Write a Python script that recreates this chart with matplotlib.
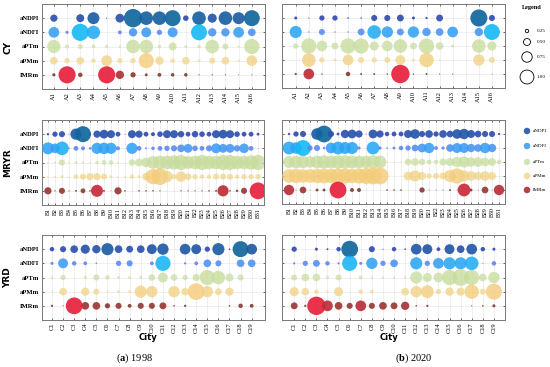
import numpy as np
import matplotlib
matplotlib.use("Agg")
import matplotlib.pyplot as plt
from matplotlib.colors import to_rgb

plt.rcParams['font.family'] = ['Liberation Serif', 'DejaVu Serif']
plt.rcParams['mathtext.fontset'] = 'custom'
plt.rcParams['mathtext.rm'] = 'Liberation Serif'
plt.rcParams['mathtext.bf'] = 'Liberation Serif:bold'

rows = ['aNDPI', 'aNDFI', 'aPTm', 'aPMm', 'IMRm']
regions = ['CY', 'MRYR', 'YRD']
prefix = {'CY': 'A', 'MRYR': 'B', 'YRD': 'C'}
ncity = {'CY': 16, 'MRYR': 31, 'YRD': 19}

# ---- bubble values (1998) ----
cy_1998 = [
    [0.45, 0.0, 0.5, 0.75, 0.07, 0.55, 1.15, 0.85, 0.85, 1.0, 0.35, 0.85, 0.57, 0.85, 0.75, 1.0],
    [0.67, 0.2, 1.07, 0.83, 0.0, 0.24, 0.52, 0.62, 0.33, 0.62, 0.0, 1.0, 0.52, 0.52, 0.67, 0.48],
    [0.83, 0.25, 0.3, 0.22, 0.2, 0.15, 0.85, 0.85, 0.22, 0.5, 0.18, 0.22, 0.85, 0.38, 0.12, 0.95],
    [0.48, 0.33, 0.48, 0.28, 0.67, 0.33, 0.33, 0.95, 0.52, 0.28, 0.48, 0.18, 0.38, 0.48, 0.14, 0.67],
    [0.2, 1.07, 0.28, 0.0, 1.07, 0.52, 0.33, 0.18, 0.24, 0.22, 0.22, 0.07, 0.08, 0.07, 0.06, 0.06],
]
mryr_1998 = [
    [0.15, 0.33, 0.38, 0.05, 0.7, 1.0, 0.12, 0.45, 0.55, 0.5, 0.3, 0.05, 0.5, 0.45, 0.3, 0.25,
     0.35, 0.5, 0.5, 0.4, 0.3, 0.4, 0.35, 0.3, 0.5, 0.55, 0.5, 0.35, 0.3, 0.3, 0.18],
    [0.75, 0.6, 0.85, 0.1, 0.3, 0.25, 0.15, 0.7, 0.72, 0.7, 0.25, 0.03, 0.7, 0.3, 0.12, 0.22,
     0.3, 0.33, 0.38, 0.48, 0.55, 0.35, 0.3, 0.38, 0.62, 0.55, 0.55, 0.4, 0.6, 0.3, 0.05],
    [0.08, 0.12, 0.38, 0.1, 0.18, 0.14, 0.1, 0.22, 0.3, 0.28, 0.12, 0.07, 0.4, 0.5, 0.6, 0.8,
     0.85, 0.85, 0.9, 0.95, 0.8, 0.85, 0.95, 0.85, 0.85, 0.95, 0.95, 0.85, 0.85, 0.9, 0.95],
    [0.1, 0.12, 0.18, 0.08, 0.3, 0.38, 0.45, 0.45, 0.38, 0.18, 0.1, 0.12, 0.28, 0.2, 0.48, 0.95,
     1.05, 0.7, 0.33, 0.65, 0.42, 0.33, 0.28, 0.28, 0.38, 0.38, 0.38, 0.28, 0.33, 0.33, 0.33],
    [0.45, 0.08, 0.38, 0.07, 0.12, 0.3, 0.1, 0.75, 0.12, 0.05, 0.45, 0.1, 0.03, 0.1, 0.1, 0.1,
     0.08, 0.03, 0.03, 0.08, 0.08, 0.08, 0.08, 0.1, 0.12, 0.7, 0.1, 0.15, 0.38, 0.05, 1.05],
]
yrd_1998 = [
    [0.28, 0.38, 0.48, 0.57, 0.52, 0.76, 0.48, 0.43, 0.48, 0.62, 0.71, 0.0, 0.67, 0.62, 0.33, 0.76, 0.1, 1.0, 0.67],
    [0.19, 0.62, 0.28, 0.24, 0.1, 0.0, 0.33, 0.38, 0.0, 0.24, 0.95, 0.0, 0.14, 0.24, 0.48, 0.38, 0.0, 0.48, 0.48],
    [0.15, 0.33, 0.0, 0.2, 0.38, 0.28, 0.18, 0.18, 0.18, 0.42, 0.62, 0.42, 0.33, 0.45, 0.95, 0.85, 0.5, 0.38, 0.0],
    [0.1, 0.48, 0.0, 0.52, 0.38, 0.12, 0.18, 0.18, 0.76, 0.71, 0.0, 0.71, 0.48, 1.05, 0.71, 0.43, 0.52, 0.0, 0.0],
    [0.14, 0.07, 1.05, 0.48, 0.48, 0.33, 0.38, 0.24, 0.38, 0.38, 0.43, 0.1, 0.14, 0.0, 0.0, 0.0, 0.1, 0.28, 0.24],
]

# ---- bubble values (2020) ----
cy_2020 = [
    [0.19, 0.07, 0.33, 0.33, 0.1, 0.09, 0.38, 0.38, 0.43, 0.19, 0.14, 0.43, 0.0, 0.0, 1.07, 0.38],
    [0.76, 0.09, 0.38, 0.09, 0.09, 0.43, 0.85, 0.71, 0.43, 0.71, 0.52, 0.48, 0.67, 0.0, 0.52, 1.0],
    [0.33, 0.95, 0.67, 0.43, 0.95, 0.95, 0.57, 0.67, 0.85, 0.43, 0.95, 0.48, 0.19, 0.0, 0.85, 0.57],
    [0.0, 0.85, 0.33, 0.19, 0.67, 0.38, 0.33, 0.38, 0.62, 0.19, 0.9, 0.07, 0.05, 0.0, 0.71, 0.38],
    [0.14, 0.67, 0.09, 0.0, 0.28, 0.12, 0.12, 0.09, 1.15, 0.09, 0.12, 0.07, 0.07, 0.0, 0.0, 0.05],
]
mryr_2020 = [
    [0.15, 0.33, 0.38, 0.03, 0.72, 1.05, 0.38, 0.18, 0.52, 0.55, 0.45, 0.05, 0.55, 0.45, 0.28, 0.3,
     0.3, 0.5, 0.6, 0.38, 0.48, 0.33, 0.48, 0.42, 0.6, 0.65, 0.5, 0.42, 0.38, 0.38, 0.14],
    [0.8, 0.72, 1.0, 0.33, 0.38, 0.15, 0.67, 0.8, 0.75, 0.75, 0.2, 0.02, 0.8, 0.2, 0.1, 0.18,
     0.28, 0.33, 0.42, 0.55, 0.65, 0.24, 0.2, 0.48, 0.62, 0.62, 0.52, 0.48, 0.65, 0.52, 0.02],
    [0.75, 0.8, 0.78, 0.72, 0.8, 0.85, 0.8, 0.85, 0.85, 0.8, 0.8, 0.78, 0.85, 0.8, 0.08, 0.08,
     0.08, 0.42, 0.48, 0.4, 0.3, 0.28, 0.45, 0.52, 0.65, 0.7, 0.6, 0.6, 0.55, 0.5, 0.3],
    [0.85, 0.9, 0.85, 0.85, 0.9, 0.92, 0.9, 0.95, 0.95, 0.9, 0.95, 1.0, 1.05, 1.05, 0.05, 0.05,
     0.06, 0.55, 0.7, 0.5, 0.33, 0.38, 0.45, 0.75, 0.95, 0.7, 0.6, 0.52, 0.6, 0.5, 0.05],
    [0.65, 0.05, 0.42, 0.05, 0.18, 0.18, 0.05, 1.05, 0.05, 0.25, 0.25, 0.02, 0.02, 0.02, 0.1, 0.1,
     0.1, 0.02, 0.02, 0.33, 0.06, 0.06, 0.06, 0.12, 0.05, 0.8, 0.18, 0.05, 0.42, 0.05, 0.65],
]
yrd_2020 = [
    [0.33, 0.0, 0.19, 0.12, 0.28, 1.05, 0.0, 0.38, 0.07, 0.28, 0.1, 0.67, 0.62, 0.24, 0.62, 0.48, 0.67, 0.28, 0.19],
    [0.14, 0.33, 0.43, 0.28, 0.14, 0.95, 0.19, 0.71, 0.33, 0.48, 0.0, 0.76, 0.33, 0.67, 0.76, 0.76, 0.85, 0.07, 0.28],
    [0.38, 0.48, 0.48, 0.19, 0.38, 0.05, 0.24, 0.14, 0.14, 0.14, 0.14, 0.76, 0.57, 0.62, 0.95, 1.05, 0.95, 0.48, 0.71],
    [0.57, 0.48, 0.28, 0.14, 0.57, 0.07, 0.28, 0.24, 0.0, 0.0, 0.48, 0.71, 0.81, 0.33, 0.52, 0.52, 0.9, 0.38, 1.0],
    [0.43, 0.14, 1.15, 0.67, 0.48, 0.38, 0.67, 0.38, 0.48, 0.43, 0.52, 0.1, 0.14, 0.0, 0.0, 0.0, 0.07, 0.1, 0.19],
]

data = {
    ('CY', 0): cy_1998, ('MRYR', 0): mryr_1998, ('YRD', 0): yrd_1998,
    ('CY', 1): cy_2020, ('MRYR', 1): mryr_2020, ('YRD', 1): yrd_2020,
}

legend_sizes = [0.25, 0.50, 0.75, 1.00]

# small -> large colour for each indicator
col_small = ['#3a46b6', '#6a7cf0', '#cfe0ac', '#efdc98', '#7a4232']
col_large = ['#10679c', '#10b8f6', '#c6dc9c', '#f4cb78', '#e8203c']
alphas = [0.92, 0.88, 0.8, 0.8, 0.92]

W, H = 550, 367
fig = plt.figure(figsize=(5.5, 3.67), dpi=100)


def box(l, r, t, b):
    return [l / W, 1 - b / H, (r - l) / W, (b - t) / H]


boxes = {
    ('CY', 0): (42, 265, 4, 89), ('CY', 1): (282, 505, 4, 88),
    ('MRYR', 0): (42, 264, 120, 205), ('MRYR', 1): (282, 505, 120, 204),
    ('YRD', 0): (42, 265, 235, 320), ('YRD', 1): (282, 505, 235, 320),
}
xlims = {
    ('CY', 0): (0.1, 17.0), ('CY', 1): (-0.05, 17.0),
    ('MRYR', 0): (0.15, 31.85), ('MRYR', 1): (0.0, 31.85),
    ('YRD', 0): (0.1, 20.2), ('YRD', 1): (-0.1, 20.0),
}


def blend(c1, c2, t):
    a = np.array(to_rgb(c1))
    b = np.array(to_rgb(c2))
    t = min(max(t, 0), 1)
    return tuple(a + (b - a) * t)


for (reg, k), vals in data.items():
    ax = fig.add_axes(box(*boxes[(reg, k)]))
    n = ncity[reg]
    x = np.arange(1, n + 1)
    for i in range(5):
        v = np.array(vals[i])
        cols = [blend(col_small[i], col_large[i], (vv - 0.2) / 0.8) for vv in v]
        ax.scatter(x, np.full(n, i), s=(11.5 * v) ** 2, c=cols, alpha=alphas[i],
                   edgecolors='none', zorder=3)
    ax.set_xlim(*xlims[(reg, k)])
    ax.set_ylim(5, -1)
    ax.set_xticks(x)
    ax.set_xticklabels([prefix[reg] + str(j) for j in x], rotation=90,
                       fontsize=4.6 if n < 30 else 4.3)
    ax.set_yticks(range(5))
    if k == 0:
        ax.set_yticklabels(rows, fontsize=4.8, fontweight='bold')
    else:
        ax.set_yticklabels([])
    ax.grid(True, color='#e4e4e4', linewidth=0.4, zorder=0)
    ax.tick_params(direction='in', length=1.5, width=0.4, pad=2, top=True, right=True)
    for sp in ax.spines.values():
        sp.set_color('#777777')
        sp.set_linewidth(0.7)

# region labels
for reg, yc in [('CY', 47), ('MRYR', 163), ('YRD', 278)]:
    fig.text(8 / W, 1 - yc / H, reg, rotation=90, ha='center', va='center',
             fontsize=6.5, fontweight='bold', family='DejaVu Sans')

fig.text(148 / W, 1 - 338 / H, 'City', ha='center', va='center', fontsize=6,
         fontweight='bold', family='DejaVu Sans')
fig.text(389 / W, 1 - 338 / H, 'City', ha='center', va='center', fontsize=6,
         fontweight='bold', family='DejaVu Sans')
fig.text(135 / W, 1 - 358 / H, r'($\mathbf{a}$) 1998', ha='center', va='center', fontsize=7.5)
fig.text(414 / W, 1 - 358 / H, r'($\mathbf{b}$) 2020', ha='center', va='center', fontsize=7.5)

# size legend
fig.text(532 / W, 1 - 7 / H, 'Legend', ha='center', va='center', fontsize=4.5, fontweight='bold')
lax = fig.add_axes(box(515, 550, 20, 90))
lax.set_xlim(0, 35)
lax.set_ylim(70, 0)
lax.axis('off')
ly = [11, 22, 37, 57]
for s, yy in zip(legend_sizes, ly):
    lax.scatter([12], [yy], s=(10 * s) ** 2, facecolors='none', edgecolors='black',
                linewidths=0.6)
    lax.text(22, yy, '%.2f' % s, fontsize=3.6, va='center', ha='left')

# colour legend
cax = fig.add_axes(box(515, 550, 122, 198))
cax.set_xlim(0, 35)
cax.set_ylim(76, 0)
cax.axis('off')
for i, (name, yy) in enumerate(zip(rows, [9, 24, 40, 54, 68])):
    cax.scatter([12], [yy], s=22, color=blend(col_small[i], col_large[i], 0.5),
                alpha=alphas[i], edgecolors='none')
    cax.text(18, yy, name, fontsize=3.6, va='center', ha='left')

fig.savefig('out.png', dpi=100)
